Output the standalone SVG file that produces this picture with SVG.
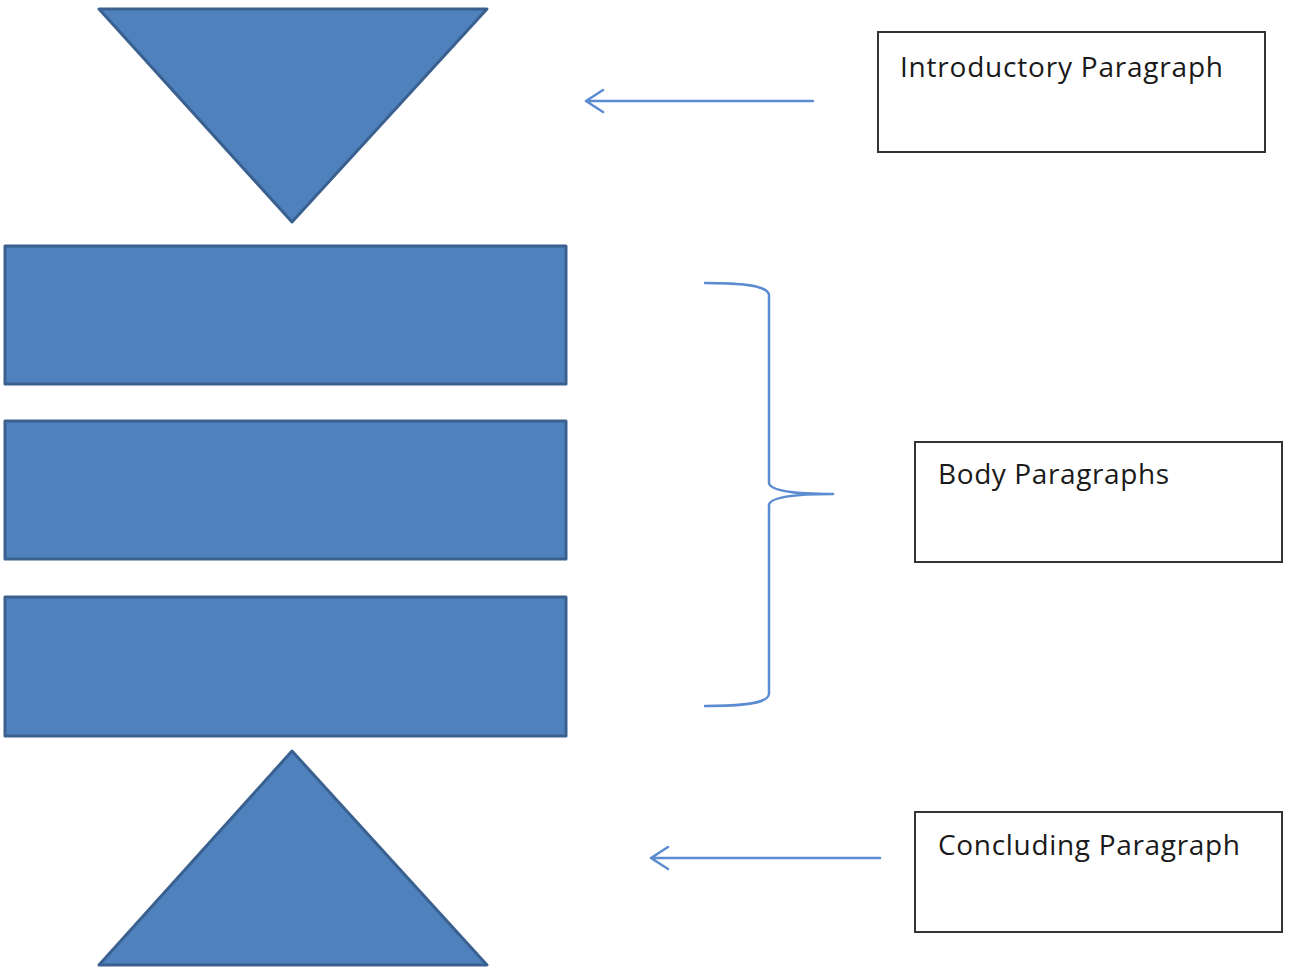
<svg xmlns="http://www.w3.org/2000/svg" width="1289" height="972" viewBox="0 0 1289 972">
<style>
.shape{fill:#4f81bd;stroke:#3a6090;stroke-width:3;stroke-linejoin:round}
.box{fill:#fff;stroke:#333;stroke-width:2}
.lbl{font-family:"Open Sans","DejaVu Sans",sans-serif;font-size:28px;fill:#1a1a1a}
.conn{fill:none;stroke:#5b8bd0;stroke-width:2.5;stroke-linecap:round;stroke-linejoin:round}
</style>
<rect width="1289" height="972" fill="#fff"/>
<g id="intro-triangle"><polygon class="shape" points="99,9 487,9 292,222"/></g>
<g id="body1"><rect class="shape" x="5" y="246" width="561" height="138"/></g>
<g id="body2"><rect class="shape" x="5" y="421" width="561" height="138"/></g>
<g id="body3"><rect class="shape" x="5" y="597" width="561" height="139"/></g>
<g id="concl-triangle"><polygon class="shape" points="292,751 487,965 99,965"/></g>
<g id="intro-box"><rect class="box" x="878" y="32" width="387" height="120"/><text class="lbl" x="900" y="77" textLength="323" lengthAdjust="spacing">Introductory Paragraph</text></g>
<g id="body-box"><rect class="box" x="915" y="442" width="367" height="120"/><text class="lbl" x="938" y="484" textLength="231" lengthAdjust="spacing">Body Paragraphs</text></g>
<g id="concl-box"><rect class="box" x="915" y="812" width="367" height="120"/><text class="lbl" x="938" y="855" textLength="302" lengthAdjust="spacing">Concluding Paragraph</text></g>
<g id="connectors">
<path class="conn" d="M813,101 H586 M603,90 L586,101 L603,112"/>
<path class="conn" d="M880,858 H651 M668,847 L651,858 L668,869"/>
<path class="conn" d="M705,283 C740,283 768,285 769,295 V483 C770,490 790,494 833,494 C790,494 770,498 769,505 V694 C768,704 740,706 705,706"/>
</g>
</svg>
